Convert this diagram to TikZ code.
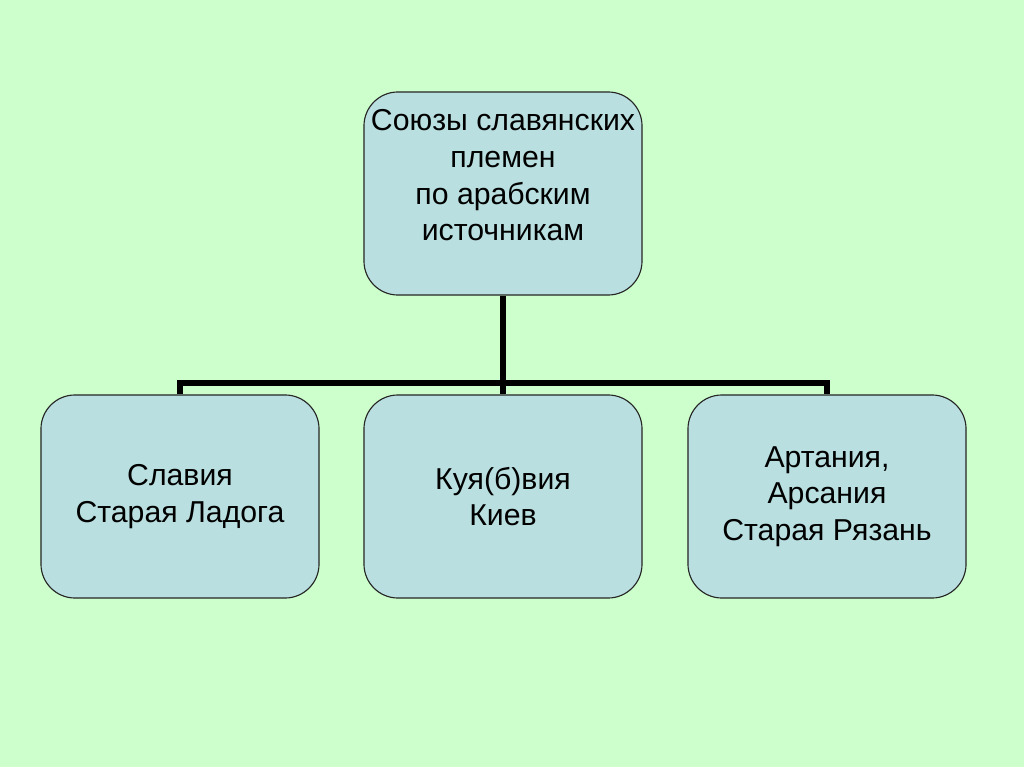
\documentclass[tikz,border=0pt]{standalone}
\usepackage{fontspec}
\setmainfont{Liberation Sans}
\usepackage{xcolor}
\usetikzlibrary{positioning,calc}
\definecolor{slidecolor}{RGB}{204,255,204}
\definecolor{boxcolor}{RGB}{185,223,224}

\begin{document}
\begin{tikzpicture}[
    x=0.025cm, y=-0.025cm,
    box/.style={rectangle, draw=black!85, line width=0.8pt, rounded corners=0.85cm, fill=boxcolor, minimum width=6.95cm, minimum height=5.075cm, align=center, font=\fontsize{21.5pt}{26pt}\selectfont},
    conn/.style={line width=4.5pt, draw=black}
]

% Slide background
\fill[slidecolor] (0,0) rectangle (1024,767);
\useasboundingbox (0,0) rectangle (1024,767);

% Top box
\node[box] (union) at (503,193.5) {Союзы славянских\\племен\\по арабским\\ источникам\\~};

% Bottom boxes
\node[box] (slavia) at (180,496.5) {Славия\\Старая Ладога};
\node[box] (kuyavia) at (503,496.5) {Куя(б)вия\\Киев};
\node[box] (artania) at (827,496.5) {Артания,\\Арсания\\Старая Рязань};

% Connectors
\coordinate (bar) at (503,383);
\draw[conn] (union.south) -- (kuyavia.north);
\draw[conn] (slavia.north) |- (bar) -| (artania.north);

\end{tikzpicture}
\end{document}
